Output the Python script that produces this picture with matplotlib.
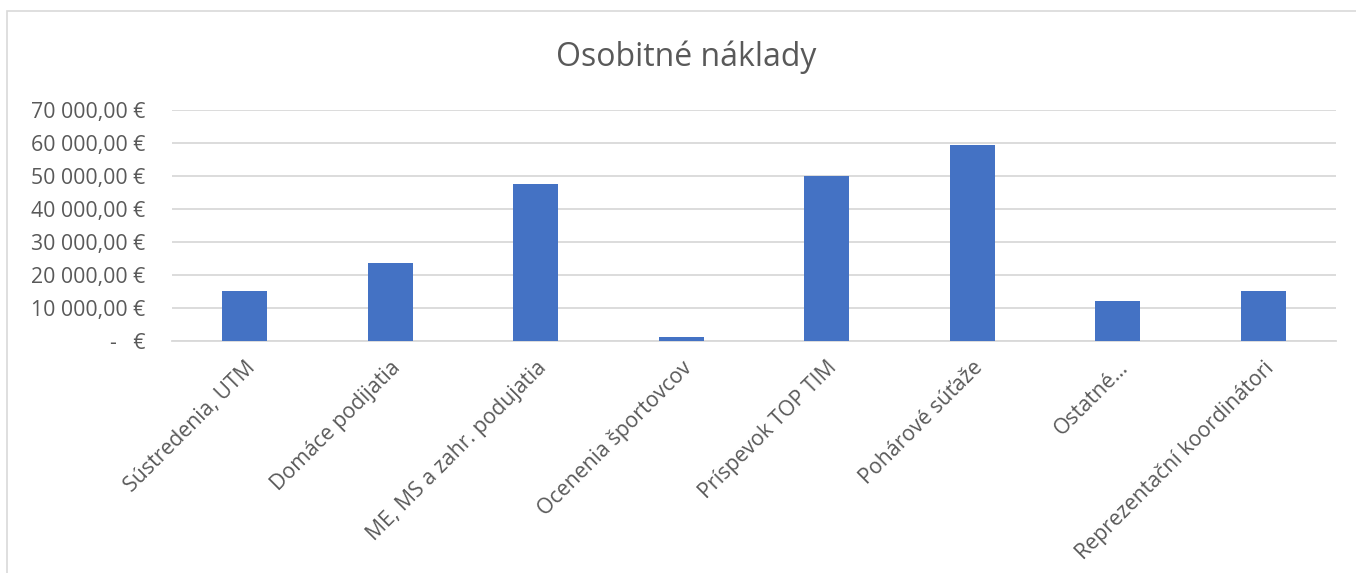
import matplotlib
matplotlib.use("Agg")
import matplotlib.pyplot as plt
from matplotlib.patches import Rectangle
from matplotlib.ticker import FixedLocator, FuncFormatter

categories = ["Sústredenia, UTM", "Domáce podijatia", "ME, MS a zahr. podujatia",
              "Ocenenia športovcov", "Príspevok TOP TIM", "Pohárové súťaže",
              "Ostatné…", "Reprezentační koordinátori"]
values = [15200, 23500, 47400, 1000, 50000, 59300, 12000, 15100]
yticks = [0, 10000, 20000, 30000, 40000, 50000, 60000, 70000]
title = "Osobitné náklady"

plt.rcParams['font.family'] = ['Open Sans', 'DejaVu Sans']
W, H = 1356, 573
fig = plt.figure(figsize=(W / 100, H / 100), dpi=100)
fig.patch.set_facecolor("white")

# chart border
fig.patches.append(Rectangle((7 / W, -0.1), 1.2, 1 - 11 / H + 0.1, transform=fig.transFigure,
                             fill=False, edgecolor="#d9d9d9", linewidth=1.2))

left, right = 172 / W, 1336 / W
bottom, top = 1 - 340.7 / H, 1 - 109.7 / H
ax = fig.add_axes([left, bottom, right - left, top - bottom])

x = list(range(len(categories)))
ax.bar(x, values, width=0.31, color="#4472C4", zorder=3)
ax.set_xlim(-0.5, len(categories) - 0.5)
ax.set_ylim(0, 70000)

ax.yaxis.set_major_locator(FixedLocator(yticks))

def fmt(v, pos):
    if v == 0:
        return "-   €"
    s = f"{int(v):,}".replace(",", " ")
    return f"{s},00 €"

ax.yaxis.set_major_formatter(FuncFormatter(fmt))
ax.grid(axis="y", color="#d9d9d9", linewidth=1.3, zorder=0)
for s in ["top", "right", "left"]:
    ax.spines[s].set_visible(False)
ax.spines["bottom"].set_color("#d9d9d9")
ax.spines["bottom"].set_linewidth(1.3)
ax.tick_params(axis="both", length=0, colors="#595959", labelsize=15.3)
ax.tick_params(axis="y", pad=19)
ax.tick_params(axis="x", pad=12)
ax.set_xticks(x)
ax.set_xticklabels(categories, rotation=45, ha="right", rotation_mode="anchor", color="#595959")

fig.text(686 / W, 1 - 57 / H, title, ha="center", va="center", fontsize=23, color="#595959")

fig.savefig("out.png", dpi=100)
